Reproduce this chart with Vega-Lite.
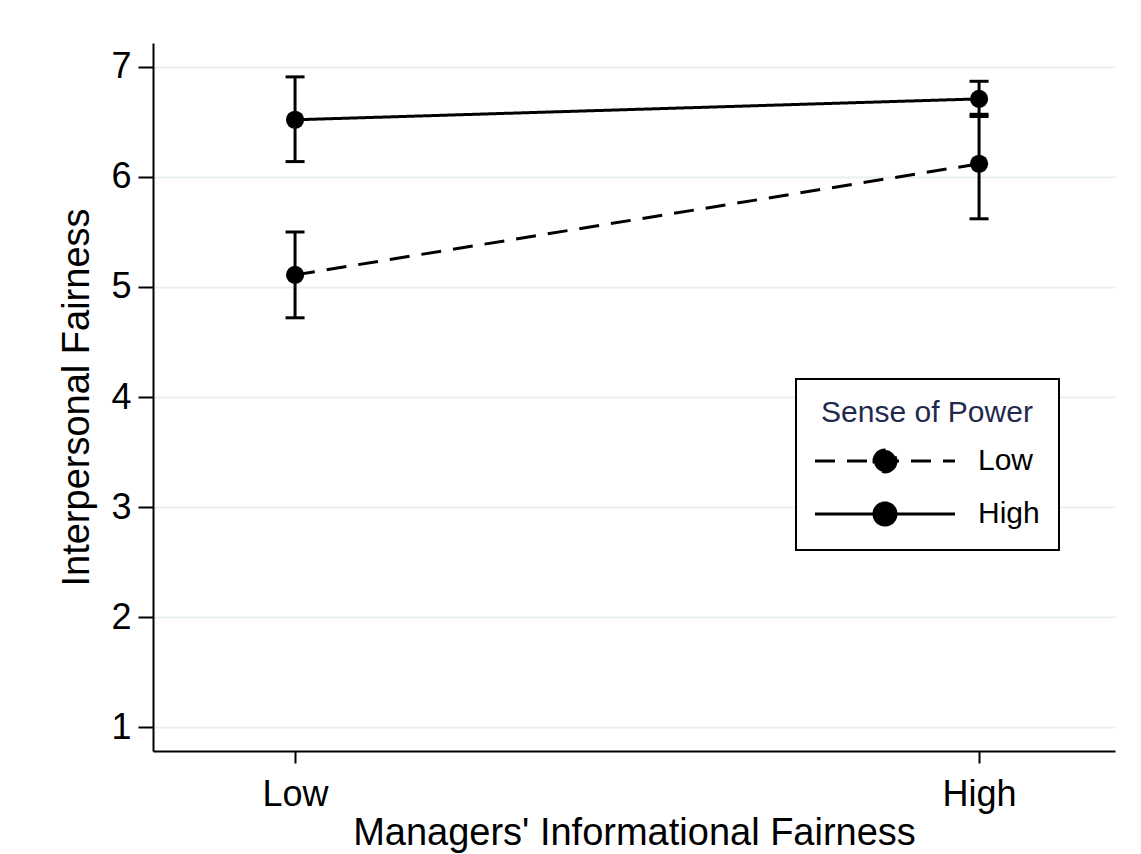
{
  "$schema": "https://vega.github.io/schema/vega-lite/v6.json",
  "width": 962,
  "height": 708,
  "autosize": {"type": "none"},
  "padding": {"left": 153, "top": 43, "right": 26, "bottom": 103},
  "background": "white",
  "config": {
    "font": "Liberation Sans",
    "view": {"stroke": null},
    "axis": {
      "domainColor": "black",
      "domainWidth": 2,
      "tickColor": "black",
      "tickWidth": 2,
      "labelColor": "black",
      "titleColor": "black",
      "labelFont": "Liberation Sans",
      "titleFont": "Liberation Sans",
      "titleFontWeight": "normal"
    }
  },
  "data": {
    "values": [
      {"info": "Low", "power": "Low", "mean": 5.11, "lo": 4.72, "hi": 5.5},
      {"info": "High", "power": "Low", "mean": 6.12, "lo": 5.62, "hi": 6.57},
      {"info": "Low", "power": "High", "mean": 6.52, "lo": 6.14, "hi": 6.91},
      {"info": "High", "power": "High", "mean": 6.71, "lo": 6.55, "hi": 6.87}
    ]
  },
  "encoding": {
    "x": {
      "field": "info",
      "type": "ordinal",
      "sort": ["Low", "High"],
      "scale": {"type": "point", "padding": 0.2032, "align": 0.511},
      "axis": {
        "title": "Managers' Informational Fairness",
        "labelAngle": 0,
        "labelFontSize": 36,
        "titleFontSize": 38,
        "tickSize": 12,
        "labelPadding": 14,
        "titlePadding": 2,
        "grid": false
      }
    }
  },
  "layer": [
    {
      "mark": {"type": "rule", "color": "black", "strokeWidth": 3},
      "encoding": {
        "y": {
          "field": "lo",
          "type": "quantitative",
          "scale": {"domain": [0.782, 7.218], "nice": false, "zero": false},
          "axis": {
            "title": "Interpersonal Fairness",
            "values": [1, 2, 3, 4, 5, 6, 7],
            "format": "d",
            "labelFontSize": 36,
            "titleFontSize": 38,
            "tickSize": 15,
            "labelPadding": 7,
            "titlePadding": 14,
            "grid": true,
            "gridColor": "#e8eff0",
            "gridWidth": 2
          }
        },
        "y2": {"field": "hi"}
      }
    },
    {
      "mark": {"type": "tick", "color": "black", "thickness": 3, "size": 19, "opacity": 1},
      "encoding": {
        "y": {"field": "lo", "type": "quantitative", "title": "Interpersonal Fairness"}
      }
    },
    {
      "mark": {"type": "tick", "color": "black", "thickness": 3, "size": 19, "opacity": 1},
      "encoding": {
        "y": {"field": "hi", "type": "quantitative", "title": "Interpersonal Fairness"}
      }
    },
    {
      "mark": {"type": "line", "color": "black", "strokeWidth": 3},
      "encoding": {
        "y": {"field": "mean", "type": "quantitative", "title": "Interpersonal Fairness"},
        "strokeDash": {
          "field": "power",
          "type": "nominal",
          "scale": {"domain": ["Low", "High"], "range": [[20, 12], [1, 0]]},
          "legend": {
            "orient": "none",
            "legendX": 643,
            "legendY": 336,
            "title": "Sense of Power",
            "titleFontSize": 30,
            "titleFont": "Liberation Sans",
            "titleFontWeight": "normal",
            "titleColor": "#1f2a4d",
            "titleAnchor": "middle",
            "titleLimit": 0,
            "titlePadding": 18,
            "labelFontSize": 30,
            "labelFont": "Liberation Sans",
            "labelColor": "black",
            "labelOffset": 133,
            "labelLimit": 0,
            "symbolType": "M-1.5,0H12.5M6.6,0A1.1,1.1 0 1,1 4.4,0A1.1,1.1 0 1,1 6.6,0Z",
            "symbolSize": 400,
            "symbolStrokeWidth": 3,
            "symbolStrokeColor": "black",
            "symbolFillColor": "black",
            "rowPadding": 19,
            "padding": 19,
            "strokeColor": "black",
            "fillColor": "white",
            "encode": {
              "symbols": {"update": {"fill": {"value": "black"}, "stroke": {"value": "black"}, "strokeWidth": {"value": 3}}},
              "legend": {"update": {"strokeWidth": {"value": 2}}}
            }
          }
        }
      }
    },
    {
      "mark": {"type": "point", "filled": true, "color": "black", "size": 330, "opacity": 1},
      "encoding": {
        "y": {"field": "mean", "type": "quantitative", "title": "Interpersonal Fairness"}
      }
    }
  ]
}
